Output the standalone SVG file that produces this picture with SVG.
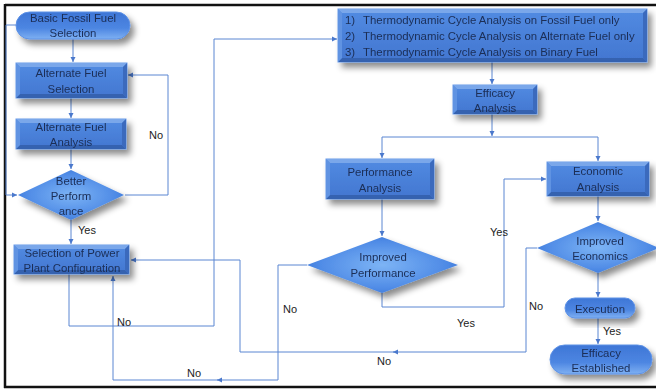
<svg xmlns="http://www.w3.org/2000/svg" width="656" height="389" viewBox="0 0 656 389">
<defs>
<linearGradient id="gRect" x1="0" y1="0" x2="0" y2="1">
<stop offset="0" stop-color="#528BE2"/><stop offset="1" stop-color="#4276D0"/>
</linearGradient>
<linearGradient id="gPill" x1="0" y1="0" x2="0" y2="1">
<stop offset="0" stop-color="#3E76D6"/><stop offset="0.6" stop-color="#4D86E2"/><stop offset="1" stop-color="#7EB0F2"/>
</linearGradient>
<radialGradient id="gDia" cx="0.5" cy="0.5" r="0.6">
<stop offset="0" stop-color="#7DB4F5"/><stop offset="0.7" stop-color="#4F8BE6"/><stop offset="1" stop-color="#3A74D4"/>
</radialGradient>
<filter id="sh" x="-20%" y="-30%" width="150%" height="180%">
<feDropShadow dx="4" dy="5" stdDeviation="3" flood-color="#000" flood-opacity="0.45"/>
</filter>
<marker id="ah" markerUnits="userSpaceOnUse" markerWidth="6" markerHeight="6" refX="5" refY="3" orient="auto">
<path d="M0,0.5 L5,3 L0,5.5 Z" fill="#4A78CC"/>
</marker>
</defs>
<style>
.n text{font-family:"Liberation Sans",Arial,sans-serif;font-size:11.4px;fill:#1B2D55;text-anchor:middle}
.n .st{text-anchor:start}
.r{fill:url(#gRect);stroke:#6A9BEA;stroke-width:1}
.p{fill:url(#gPill);stroke:#5E92E6;stroke-width:1}
.d{fill:url(#gDia)}
.bt{fill:#7AA7EA}
.bb{fill:#3462B0}
.bl{fill:#6193E2}
.br{fill:#3A6BBD}
.c path{fill:none;stroke:#5B86D2;stroke-width:1}
.c .a{marker-end:url(#ah)}
.lbl{font-family:"Liberation Sans",Arial,sans-serif;font-size:11px;fill:#222}
</style>
<rect width="656" height="389" fill="#fff"/>
<path d="M5,5 H656 M5,4 V388 M4,387 H656" stroke="#111" stroke-width="2.5" fill="none"/>

<g class="c" id="connectors">
<path class="a" d="M73,39 V62"/>
<path class="a" d="M71,98 V118"/>
<path class="a" d="M71,149 V169"/>
<path class="a" d="M125,195 H168 V75 H128"/>
<path class="a" d="M71,220 V244"/>
<path class="a" d="M16,25 H6 V195 H17"/>
<path class="a" d="M69,274 V326 H214 V39 H337"/>
<path class="a" d="M307,265 H278 V380 H217"/>
<path class="a" d="M219,380 H113 V276"/>
<path class="a" d="M537,248 H526 V352 H393"/>
<path class="a" d="M395,352 H240 V260 H131"/>
<path class="a" d="M492,62 V84"/>
<path class="a" d="M492,114 V136"/>
<path d="M382,137 H598"/>
<path class="a" d="M382,137 V158"/>
<path class="a" d="M598,137 V161"/>
<path class="a" d="M382,199 V236"/>
<path class="a" d="M382,293 V307 H504 V179 H546"/>
<path class="a" d="M598,196 V221"/>
<path class="a" d="M598,273 V297"/>
<path class="a" d="M598,318 V344"/>
</g>

<g id="labels">
<text class="lbl" x="149" y="139">No</text>
<text class="lbl" x="78" y="234">Yes</text>
<text class="lbl" x="117" y="326">No</text>
<text class="lbl" x="283" y="313">No</text>
<text class="lbl" x="187" y="377">No</text>
<text class="lbl" x="490" y="236">Yes</text>
<text class="lbl" x="457" y="327">Yes</text>
<text class="lbl" x="529" y="310">No</text>
<text class="lbl" x="377" y="365">No</text>
<text class="lbl" x="603" y="335">Yes</text>
</g>

<g class="n" id="n1" filter="url(#sh)">
<rect class="p" x="16" y="12" width="114" height="27" rx="13.5"/>
<text x="73" y="22">Basic Fossil Fuel</text><text x="73" y="37">Selection</text>
</g>

<g class="n" id="n2" filter="url(#sh)">
<rect class="r" x="16" y="63" width="111" height="35"/>
<path class="bt" d="M16,63 H127 L123,67 H20 Z"/><path class="bb" d="M16,98 H127 L123,94 H20 Z"/>
<path class="bl" d="M16,63 L20,67 V94 L16,98 Z"/><path class="br" d="M127,63 L123,67 V94 L127,98 Z"/>
<text x="71" y="77">Alternate Fuel</text><text x="71" y="93">Selection</text>
</g>

<g class="n" id="n3" filter="url(#sh)">
<rect class="r" x="16" y="119" width="110" height="30"/>
<path class="bt" d="M16,119 H126 L122,123 H20 Z"/><path class="bb" d="M16,149 H126 L122,145 H20 Z"/>
<path class="bl" d="M16,119 L20,123 V145 L16,149 Z"/><path class="br" d="M126,119 L122,123 V145 L126,149 Z"/>
<text x="71" y="131">Alternate Fuel</text><text x="71" y="146">Analysis</text>
</g>

<g class="n" id="n4" filter="url(#sh)">
<path class="d" d="M71,170 L124,195 L71,220 L18,195 Z"/>
<text x="71" y="185">Better</text><text x="71" y="200">Perform</text><text x="71" y="215">ance</text>
</g>

<g class="n" id="n5" filter="url(#sh)">
<rect class="r" x="14" y="245" width="115" height="29"/>
<path class="bt" d="M14,245 H129 L125,249 H18 Z"/><path class="bb" d="M14,274 H129 L125,270 H18 Z"/>
<path class="bl" d="M14,245 L18,249 V270 L14,274 Z"/><path class="br" d="M129,245 L125,249 V270 L129,274 Z"/>
<text x="72" y="257">Selection of Power</text><text x="72" y="272">Plant Configuration</text>
</g>

<g class="n" id="n6" filter="url(#sh)">
<rect class="r" x="338" y="9" width="309" height="53"/>
<path class="bt" d="M338,9 H647 L643,13 H342 Z"/><path class="bb" d="M338,62 H647 L643,58 H342 Z"/>
<path class="bl" d="M338,9 L342,13 V58 L338,62 Z"/><path class="br" d="M647,9 L643,13 V58 L647,62 Z"/>
<text class="st" x="345" y="24">1)</text><text class="st" x="363" y="24">Thermodynamic Cycle Analysis on Fossil Fuel only</text>
<text class="st" x="345" y="40">2)</text><text class="st" x="363" y="40">Thermodynamic Cycle Analysis on Alternate Fuel only</text>
<text class="st" x="345" y="56">3)</text><text class="st" x="363" y="56">Thermodynamic Cycle Analysis on Binary Fuel</text>
</g>

<g class="n" id="n7" filter="url(#sh)">
<rect class="r" x="453" y="85" width="84" height="29"/>
<path class="bt" d="M453,85 H537 L533,89 H457 Z"/><path class="bb" d="M453,114 H537 L533,110 H457 Z"/>
<path class="bl" d="M453,85 L457,89 V110 L453,114 Z"/><path class="br" d="M537,85 L533,89 V110 L537,114 Z"/>
<text x="495" y="97">Efficacy</text><text x="495" y="112">Analysis</text>
</g>

<g class="n" id="n8" filter="url(#sh)">
<rect class="r" x="326" y="159" width="108" height="40"/>
<path class="bt" d="M326,159 H434 L430,163 H330 Z"/><path class="bb" d="M326,199 H434 L430,195 H330 Z"/>
<path class="bl" d="M326,159 L330,163 V195 L326,199 Z"/><path class="br" d="M434,159 L430,163 V195 L434,199 Z"/>
<text x="380" y="176">Performance</text><text x="380" y="192">Analysis</text>
</g>

<g class="n" id="n9" filter="url(#sh)">
<rect class="r" x="547" y="162" width="102" height="34"/>
<path class="bt" d="M547,162 H649 L645,166 H551 Z"/><path class="bb" d="M547,196 H649 L645,192 H551 Z"/>
<path class="bl" d="M547,162 L551,166 V192 L547,196 Z"/><path class="br" d="M649,162 L645,166 V192 L649,196 Z"/>
<text x="598" y="175">Economic</text><text x="598" y="191">Analysis</text>
</g>

<g class="n" id="n10" filter="url(#sh)">
<path class="d" d="M382,237 L458,265 L382,293 L307,265 Z"/>
<text x="383" y="261">Improved</text><text x="383" y="277">Performance</text>
</g>

<g class="n" id="n11" filter="url(#sh)">
<path class="d" d="M598,222 L659,248 L598,273 L537,248 Z"/>
<text x="600" y="245">Improved</text><text x="600" y="260">Economics</text>
</g>

<g class="n" id="n12" filter="url(#sh)">
<rect class="p" x="565" y="298" width="70" height="20" rx="10"/>
<text x="600" y="313">Execution</text>
</g>

<g class="n" id="n13" filter="url(#sh)">
<rect class="p" x="550" y="345" width="102" height="29" rx="14.5"/>
<text x="601" y="357">Efficacy</text><text x="601" y="372">Established</text>
</g>
</svg>
